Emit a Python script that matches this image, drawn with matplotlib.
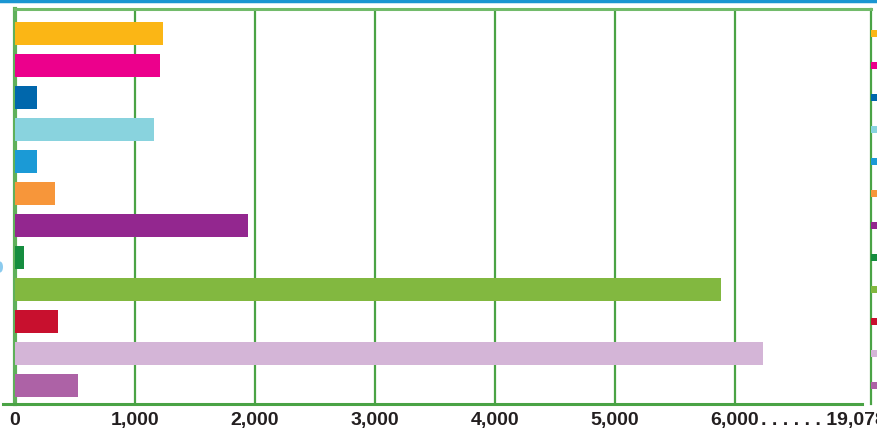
import matplotlib.pyplot as plt
from matplotlib.lines import Line2D
from matplotlib.patches import Ellipse
import matplotlib.transforms as mtransforms

# bar values, top to bottom
values = [1233, 1208, 183, 1158, 183, 333, 1942, 75, 5883, 358, 6233, 525]
colors = ['#fbb615', '#ec008c', '#0067ac', '#89d3de', '#1b9ad6', '#f7963a',
          '#93278f', '#168d3f', '#82b840', '#c8102e', '#d4b5d7', '#ad62a6']
ticks = [0, 1000, 2000, 3000, 4000, 5000, 6000]
tick_labels = ['0', '1,000', '2,000', '3,000', '4,000', '5,000', '6,000']
axis_max_label = '. . . . . . 19,078'

font = 'Liberation Sans'
fsize = 14

W, H = 878, 432
fig = plt.figure(figsize=(W / 100, H / 100), dpi=100)
ax = fig.add_axes([15 / W, 28 / H, 856 / W, 395 / H])

grid_green = '#4aa345'
ypos = list(range(len(values)))
ax.barh(ypos, values, height=0.72, color=colors, zorder=3)

ax.set_xlim(0, 856 / 0.12)
ax.set_ylim(11.58, -0.766)
ax.set_yticks([])
ax.set_xticks(ticks)
ax.set_xticklabels(tick_labels, fontfamily=font, fontweight='bold',
                   fontsize=fsize, color='#231f20')
ax.tick_params(axis='x', length=0, pad=6)
for t in ticks[1:]:
    ax.axvline(t, color=grid_green, lw=1.6, zorder=1)

ax.spines['bottom'].set_visible(False)
ax.spines['top'].set_color('#72bb6b')
ax.spines['top'].set_linewidth(2.2)
ax.spines['left'].set_color('#5fb05a')
ax.spines['left'].set_linewidth(3)
ax.spines['right'].set_color(grid_green)
ax.spines['right'].set_linewidth(1.6)

# bottom axis line runs past the plot on the left
fig.add_artist(Line2D([3 / W, 862 / W], [28 / H, 28 / H], transform=fig.transFigure,
                      color=grid_green, lw=2.2))
# blue rule along the top edge
fig.add_artist(Line2D([0, 1], [431 / H, 431 / H], transform=fig.transFigure,
                      color='#1b96d2', lw=2.5))
fig.add_artist(Ellipse((0, (H - 267) / H), 6 / W, 11 / H, transform=fig.transFigure,
                       color='#8ccbee', lw=0))

# extended scale after the last tick
btrans = mtransforms.blended_transform_factory(ax.transData, ax.transAxes)
ax.text(6000 + 26 / 0.12, -8 / 395, axis_max_label, transform=btrans,
        fontfamily=font, fontweight='bold', fontsize=fsize, color='#231f20',
        ha='left', va='top', clip_on=False)

# legend swatches at the right edge
trans = mtransforms.blended_transform_factory(ax.transAxes, ax.transData)
ax.scatter([(875 - 15) / 856] * len(values), ypos, marker='s', s=26, c=colors,
           transform=trans, clip_on=False, zorder=4, linewidths=0)

fig.savefig('out.png', dpi=100)
